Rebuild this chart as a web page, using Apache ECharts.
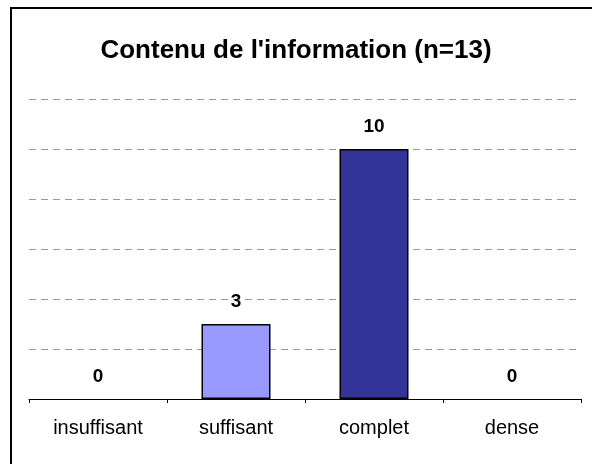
<!DOCTYPE html>
<html>
<head>
<meta charset="utf-8">
<script src="https://cdn.jsdelivr.net/npm/echarts@6/dist/echarts.min.js"></script>
<style>
  html, body { margin: 0; padding: 0; background: #fff; }
  #chart { width: 592px; height: 464px; }
</style>
</head>
<body>
<div id="chart"></div>
<script>
// categories and values
const categories = ["insuffisant", "suffisant", "complet", "dense"];
const counts = [0, 3, 10, 0];
const barColors = ["#9999FF", "#9999FF", "#333399", "#333399"];

const chart = echarts.init(document.getElementById("chart"));

chart.setOption({
  animation: false,
  textStyle: { fontFamily: "Liberation Sans, Arial, sans-serif" },
  title: {
    text: "Contenu de l'information (n=13)",
    left: "center",
    top: 33,
    textStyle: { fontSize: 26, fontWeight: "bold", color: "#000" }
  },
  // outer frame (right and bottom edges are cut off in the picture)
  graphic: [{
    type: "rect",
    shape: { x: 11, y: 8, width: 700, height: 600 },
    style: { fill: null, stroke: "#000", lineWidth: 2 },
    silent: true
  }],
  grid: { left: 29, right: 11, top: 99, bottom: 65 },
  xAxis: {
    type: "category",
    data: categories,
    axisLine: { lineStyle: { color: "#000", width: 1 } },
    axisTick: { show: true, length: 4, lineStyle: { color: "#000" } },
    axisLabel: { color: "#000", fontSize: 20, margin: 19 }
  },
  yAxis: {
    type: "value",
    min: 0,
    max: 12,
    interval: 2,
    axisLine: { show: false },
    axisTick: { show: false },
    axisLabel: { show: false },
    splitLine: { lineStyle: { color: "#999", type: [7, 5], width: 1 } }
  },
  series: [{
    type: "bar",
    barWidth: "50%",
    data: counts.map((v, i) => ({
      value: v,
      // no outline on empty bars
      itemStyle: { color: barColors[i], borderWidth: v === 0 ? 0 : 1.5 }
    })),
    itemStyle: { borderColor: "#000" },
    label: {
      show: true,
      position: "top",
      distance: 13,
      color: "#000",
      fontSize: 19,
      fontWeight: "bold"
    }
  }]
});
</script>
</body>
</html>
